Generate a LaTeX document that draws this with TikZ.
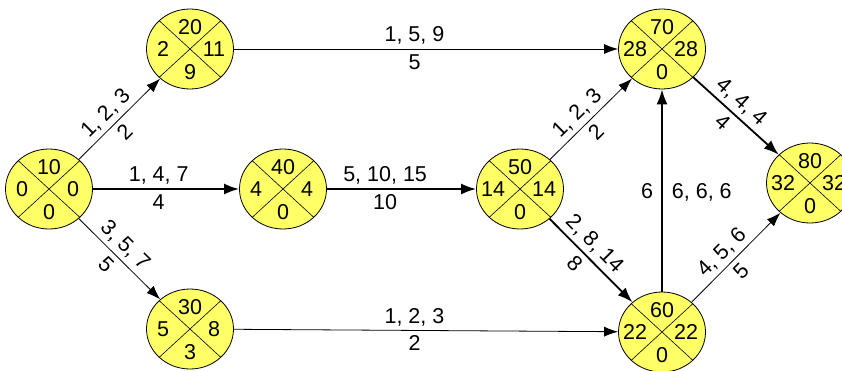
\documentclass[tikz,border=0pt]{standalone}
\usepackage{fontspec}
\setmainfont{Liberation Sans}
\usetikzlibrary{arrows.meta,shapes.geometric}
\definecolor{nodefill}{HTML}{FFFF66}
\tikzset{
  ev/.style={ellipse, draw, line width=0.8pt, fill=nodefill,
    minimum width=87pt, minimum height=80pt, inner sep=0pt,
    path picture={\draw[line width=0.6pt]
      (path picture bounding box.north west) -- (path picture bounding box.south east)
      (path picture bounding box.north east) -- (path picture bounding box.south west);}},
  num/.style={inner sep=0pt, font=\fontsize{21.5}{25}\selectfont, text height=15pt, text depth=0pt},
  lab/.style={inner sep=0pt, font=\fontsize{21.5}{25}\selectfont, text height=15pt, text depth=0pt},
  la/.style={lab, above=7pt, sloped},
  lb/.style={lab, below=5pt, sloped},
  thinarrow/.style={line width=0.8pt, -{Latex[length=14pt,width=10pt]}},
  thickarrow/.style={line width=1.8pt, -{Latex[length=15pt,width=11pt]}},
}
\newcommand\evnode[7]{%
  \node[ev] (#1) at (#2,#3) {};
  \node[num] (#1t) at ([yshift=22pt]#1.center) {#4};
  \node[num] (#1l) at ([xshift=-27pt]#1.center) {#5};
  \node[num] (#1r) at ([xshift=24pt]#1.center) {#6};
  \node[num] (#1b) at ([yshift=-23pt]#1.center) {#7};
}
\begin{document}
\begin{tikzpicture}[x=1pt,y=-1pt]
\clip (0,0) rectangle (842,370);
\evnode{n10}{49}{189}{10}{0}{0}{0}
\evnode{n20}{190}{49}{20}{2}{11}{9}
\evnode{n40}{283}{189}{40}{4}{4}{0}
\evnode{n30}{190}{329}{30}{5}{8}{3}
\evnode{n50}{520}{189}{50}{14}{14}{0}
\evnode{n70}{662}{49}{70}{28}{28}{0}
\evnode{n60}{662}{332}{60}{22}{22}{0}
\evnode{n80}{810}{183}{80}{32}{32}{0}

\draw[thinarrow] (n10) -- node[la, pos=0.45] (e1a) {1, 2, 3} node[lb, pos=0.45] (e1b) {2} (n20);
\draw[thickarrow] (n10) -- node[lab, above=7pt, pos=0.45] (e2a) {1, 4, 7} node[lab, below=5pt, pos=0.45] (e2b) {4} (n40);
\draw[thinarrow] (n10) -- node[la, pos=0.45] (e3a) {3, 5, 7} node[lb, pos=0.45] (e3b) {5} (n30);
\draw[thinarrow] (n20) -- node[lab, above=7pt, pos=0.47] (e4a) {1, 5, 9} node[lab, below=5pt, pos=0.47] (e4b) {5} (n70);
\draw[thickarrow] (n40) -- node[lab, above=7pt, pos=0.39] (e5a) {5, 10, 15} node[lab, below=5pt, pos=0.39] (e5b) {10} (n50);
\draw[thinarrow] (n30) -- node[lab, above=7pt, pos=0.47] (e6a) {1, 2, 3} node[lab, below=5pt, pos=0.47] (e6b) {2} (n60);
\draw[thinarrow] (n50) -- node[la, pos=0.45] (e7a) {1, 2, 3} node[lb, pos=0.45] (e7b) {2} (n70);
\draw[thickarrow] (n50) -- node[la, pos=0.42] (e8a) {2, 8, 14} node[lb, pos=0.42] (e8b) {8} (n60);
\draw[thickarrow] (n60) -- node[lab, left=8pt, pos=0.5] (e9a) {6} node[lab, right=9pt, pos=0.5] (e9b) {6, 6, 6} (n70);
\draw[thickarrow] (n70) -- node[la, pos=0.45] (e10a) {4, 4, 4} node[lb, pos=0.45] (e10b) {4} (n80);
\draw[thinarrow] (n60) -- node[la, pos=0.45] (e11a) {4, 5, 6} node[lb, pos=0.45] (e11b) {5} (n80);
\end{tikzpicture}
\end{document}
